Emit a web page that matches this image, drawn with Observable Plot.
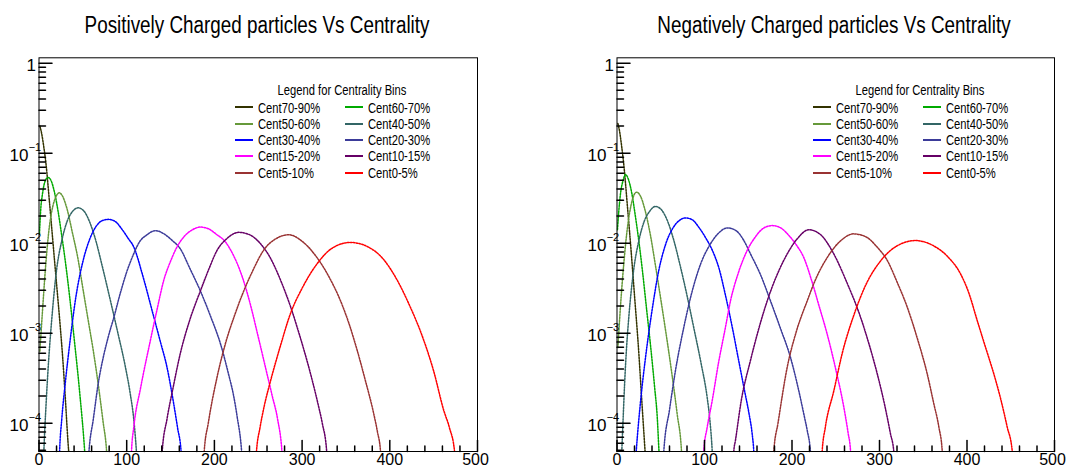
<!DOCTYPE html>
<html><head><meta charset="utf-8">
<script src="https://cdn.jsdelivr.net/npm/d3@7"></script>
<script src="https://cdn.jsdelivr.net/npm/@observablehq/plot@0.6"></script>
<style>
body{margin:0;background:#fff;font-family:"Liberation Sans",Arial,Helvetica,sans-serif;color:#000;}
#root{position:relative;width:1066px;height:469px;overflow:hidden;background:#fff;}
.panel{position:absolute;top:0;width:533px;height:469px;}
.panel svg{position:absolute;left:0;top:50px;overflow:visible;}
.title{position:absolute;top:13.5px;font-size:23px;line-height:23px;white-space:nowrap;transform:translateX(-50%) scaleX(0.82);}
.lg{position:absolute;font-size:14px;line-height:14px;white-space:nowrap;}
.lgtitle{transform:translateX(-50%) scaleX(0.8);}
.lgtext{transform:scaleX(0.8);transform-origin:left center;}
.sw{position:absolute;height:2.2px;width:18px;}
</style>
</head><body><div id="root"></div>
<script>
// ---- categories and colours ----
const centralityBins = ["Cent70-90%","Cent60-70%","Cent50-60%","Cent40-50%","Cent30-40%","Cent20-30%","Cent15-20%","Cent10-15%","Cent5-10%","Cent0-5%"];
const binColors = ["#333300","#00aa00","#66993a","#336666","#0000ff","#3b3b99","#ff00ff","#660066","#993333","#ff0000"];
const panelTitles = ["Positively Charged particles Vs Centrality","Negatively Charged particles Vs Centrality"];
const legendTitle = "Legend for Centrality Bins";

// ---- tick labels ----
const xTickValues = [0,100,200,300,400,500];
const xTickLabels = ["0","100","200","300","400","500"];
const yTickValues = [1e-4,1e-3,1e-2,1e-1,1];
const yTickBase = ["10","10","10","10","1"];
const yTickExp = ["\u22124","\u22123","\u22122","\u22121",""];

// ---- positive particles: [multiplicity, probability] ----
const posCent70_90 = [[1,0.200],[3,0.166],[5,0.126],[8,0.0759],[12,0.0282],[16,0.0100],[20,3.55e-3],[24,1.26e-3],[27,5.37e-4],[30,1.91e-4],[33,6.31e-5],[35,3.55e-5]];
const posCent60_70 = [[0.5,0.0126],[2,0.0240],[4,0.0355],[7,0.0490],[10.5,0.0537],[14,0.0490],[18,0.0355],[22,0.0219],[26,0.0120],[30,6.31e-3],[35,2.51e-3],[40,8.91e-4],[46.5,2.14e-4],[52,5.01e-5],[53,3.55e-5]];
const posCent50_60 = [[1,6.31e-4],[4,1.78e-3],[8,6.31e-3],[12,0.0158],[16,0.0263],[20,0.0339],[23,0.0363],[27,0.0331],[32,0.0240],[38,0.0132],[44,7.08e-3],[50,3.16e-3],[56,1.41e-3],[62,6.31e-4],[68,2.51e-4],[73,1.05e-4],[77,5.01e-5],[78,3.55e-5]];
const posCent40_50 = [[5,3.55e-5],[6,6.31e-5],[8,1.58e-4],[11,5.01e-4],[14.5,1.41e-3],[20,5.01e-3],[26,0.0107],[32,0.0174],[38,0.0224],[44.7,0.0247],[51,0.0229],[58,0.0170],[65,0.0105],[72,5.62e-3],[81.5,2.29e-3],[90,1.0e-3],[98,4.47e-4],[104,2.14e-4],[108,1.12e-4],[111,5.01e-5],[112,3.55e-5]];
const posCent30_40 = [[23,3.55e-5],[23.5,4.9e-5],[26,1.12e-4],[30,2.82e-4],[35,7.59e-4],[42,2.51e-3],[50.4,6.46e-3],[58,0.0112],[66,0.0158],[72,0.0178],[79.2,0.0184],[87,0.0174],[95,0.0141],[102,0.0112],[108,9.12e-3],[118,4.47e-3],[129,1.78e-3],[138,8.32e-4],[146,4.17e-4],[153,1.78e-4],[158,8.91e-5],[162,4.9e-5],[163,3.55e-5]];
const posCent20_30 = [[56,3.55e-5],[57,4.9e-5],[62,1.12e-4],[67.5,2.75e-4],[73,5.25e-4],[79,9.12e-4],[86,1.58e-3],[92,2.63e-3],[100,4.79e-3],[107,7.24e-3],[115,0.0105],[122.6,0.0123],[132.8,0.0138],[143,0.0126],[152,0.0107],[161,8.71e-3],[172,5.25e-3],[184,2.95e-3],[196,1.51e-3],[207,7.59e-4],[216,3.55e-4],[222,2.0e-4],[226,1.17e-4],[231,4.9e-5],[232,3.55e-5]];
const posCent15_20 = [[105,3.55e-5],[105.5,4.9e-5],[108,8.91e-5],[116,2.51e-4],[127,8.32e-4],[135,1.91e-3],[142.3,3.89e-3],[150,6.31e-3],[158,9.33e-3],[166,0.0120],[175,0.0141],[184,0.0151],[193,0.0145],[202,0.0126],[212,0.0105],[222,7.24e-3],[232,4.17e-3],[241,2.09e-3],[249,1.0e-3],[258,4.27e-4],[266,2.0e-4],[272,1.12e-4],[277,4.9e-5],[278,3.55e-5]];
const posCent10_15 = [[140,3.55e-5],[140.5,4.9e-5],[146,1.12e-4],[153,2.51e-4],[161,5.89e-4],[172,1.41e-3],[184,2.95e-3],[194,5.25e-3],[203,8.32e-3],[214,0.0112],[227.8,0.0132],[241,0.0123],[252,0.0100],[263,7.08e-3],[275,3.98e-3],[287,1.95e-3],[298,8.91e-4],[309.6,3.55e-4],[318,1.66e-4],[323,1.0e-4],[328,4.9e-5],[329,3.55e-5]];
const posCent5_10 = [[188,3.55e-5],[188.4,4.9e-5],[193,1.0e-4],[203,3.24e-4],[213,7.94e-4],[223,1.58e-3],[233.5,2.95e-3],[244,5.01e-3],[256,8.32e-3],[270,0.0112],[284.9,0.0124],[300,0.0105],[317,6.92e-3],[331,4.17e-3],[343.8,2.29e-3],[353,1.32e-3],[362.8,6.46e-4],[372,3.02e-4],[381.8,1.26e-4],[386,7.94e-5],[389.4,4.9e-5],[390,3.55e-5]];
const posCent0_5 = [[247,3.55e-5],[248,4.9e-5],[252,8.91e-5],[257,1.58e-4],[264,2.95e-4],[275,7.08e-4],[286.8,1.66e-3],[300,3.16e-3],[317,5.89e-3],[335,8.91e-3],[355.2,0.0102],[375,9.12e-3],[392,6.76e-3],[408.4,3.89e-3],[422,2.09e-3],[438.8,8.32e-4],[450,3.80e-4],[461.6,1.38e-4],[468,8.91e-5],[473.8,4.9e-5],[475,3.55e-5]];

// ---- negative particles ----
const negCent70_90 = [[1,0.214],[3,0.174],[5,0.126],[8,0.0708],[12,0.0251],[16,8.51e-3],[20,2.63e-3],[25,5.89e-4],[28,2.0e-4],[31,7.08e-5],[33,3.55e-5]];
const negCent60_70 = [[0.5,0.0141],[2,0.0224],[4,0.0355],[7,0.0501],[9.7,0.0579],[13,0.0513],[17,0.0355],[21,0.0200],[25,0.0105],[29,5.01e-3],[34,1.78e-3],[39,6.31e-4],[43,2.51e-4],[46,1.17e-4],[48,4.9e-5],[49,3.55e-5]];
const negCent50_60 = [[1,6.92e-4],[4,2.0e-3],[8,6.31e-3],[12,0.0151],[16,0.0263],[22.3,0.0369],[27,0.0331],[32,0.0234],[38,0.0126],[44,5.62e-3],[50,2.40e-3],[56,1.0e-3],[62,3.98e-4],[68.8,1.26e-4],[73.7,4.9e-5],[74.5,3.55e-5]];
const negCent40_50 = [[5,3.55e-5],[5.5,4.9e-5],[7,1.12e-4],[9,3.16e-4],[11,7.08e-4],[13.5,1.51e-3],[19,5.01e-3],[25,0.0107],[31,0.0174],[37,0.0224],[44,0.0256],[51,0.0234],[58,0.0174],[65,0.0107],[72,5.75e-3],[80,2.63e-3],[88,1.12e-3],[96,4.68e-4],[103,1.95e-4],[106,1.12e-4],[108.8,4.9e-5],[109.5,3.55e-5]];
const negCent30_40 = [[21,3.55e-5],[22,4.9e-5],[27,1.78e-4],[32.6,5.37e-4],[40,1.78e-3],[47.8,5.01e-3],[56,0.0100],[64,0.0148],[71,0.0178],[78.3,0.0191],[86,0.0182],[94,0.0148],[102,0.0112],[109,8.32e-3],[116.3,5.37e-3],[124,2.63e-3],[131.7,1.17e-3],[139,5.01e-4],[146,2.24e-4],[151,1.26e-4],[154.5,7.59e-5],[156.3,4.9e-5],[157,3.55e-5]];
const negCent20_30 = [[53,3.55e-5],[53.5,4.9e-5],[60,1.41e-4],[66.9,3.89e-4],[76,1.12e-3],[86,2.95e-3],[96,6.03e-3],[106,9.55e-3],[116,0.0129],[126,0.0148],[136,0.0138],[145,0.0107],[152.6,7.59e-3],[164,4.47e-3],[175.4,2.29e-3],[187,1.12e-3],[198.3,5.37e-4],[208,2.24e-4],[214,1.20e-4],[217.4,8.32e-5],[221,4.9e-5],[222,3.55e-5]];
const negCent15_20 = [[99,3.55e-5],[99.2,5.01e-5],[103,8.91e-5],[108.8,1.78e-4],[116,4.68e-4],[124,1.17e-3],[129.7,2.29e-3],[138,4.47e-3],[148.8,8.32e-3],[158,0.0117],[168,0.0148],[177.4,0.0157],[187,0.0148],[197,0.0120],[205,9.55e-3],[213.5,6.92e-3],[222,3.98e-3],[231,2.0e-3],[240.2,9.77e-4],[250,3.98e-4],[259.2,1.51e-4],[264,7.94e-5],[266.9,4.9e-5],[267.5,3.55e-5]];
const negCent10_15 = [[133,3.55e-5],[133.5,4.9e-5],[135.4,6.46e-5],[142,1.78e-4],[152.6,5.01e-4],[162,1.12e-3],[171.7,2.29e-3],[183,4.47e-3],[194.5,7.59e-3],[206,0.0112],[219.2,0.0141],[232,0.0126],[247.8,7.59e-3],[262,3.80e-3],[278.3,1.51e-3],[288,7.59e-4],[297.4,3.55e-4],[306,1.58e-4],[312.6,7.59e-5],[316.3,4.9e-5],[317,3.55e-5]];
const negCent5_10 = [[178.5,3.55e-5],[179.2,4.9e-5],[184,1.0e-4],[194.5,4.17e-4],[205,1.05e-3],[217.4,2.29e-3],[228,4.17e-3],[240.2,6.92e-3],[255,0.0105],[270.6,0.0127],[285,0.0117],[297,9.12e-3],[308.8,6.46e-3],[320,3.72e-3],[331.7,1.95e-3],[343,8.91e-4],[354.5,3.55e-4],[362,1.66e-4],[367.8,9.12e-5],[371.7,4.9e-5],[372.5,3.55e-5]];
const negCent0_5 = [[234,3.55e-5],[234.5,4.9e-5],[238,8.91e-5],[247.8,2.29e-4],[258,6.31e-4],[270.6,1.58e-3],[285,3.55e-3],[301,6.31e-3],[320,9.33e-3],[341.1,0.0107],[360,9.55e-3],[378,7.08e-3],[392.6,4.57e-3],[402,2.82e-3],[411.7,1.38e-3],[421,7.08e-4],[430.6,3.55e-4],[439,1.78e-4],[445.9,9.12e-5],[451.7,4.9e-5],[452.5,3.55e-5]];

const posSeries = [posCent70_90,posCent60_70,posCent50_60,posCent40_50,posCent30_40,posCent20_30,posCent15_20,posCent10_15,posCent5_10,posCent0_5];
const negSeries = [negCent70_90,negCent60_70,negCent50_60,negCent40_50,negCent30_40,negCent20_30,negCent15_20,negCent10_15,negCent5_10,negCent0_5];

// ---- drawing ----
const tickUp = {draw(c, l) { c.moveTo(0, 0); c.lineTo(0, -l); }};
const xMinorTicks = d3.range(0, 501, 20).filter(v => v % 100 !== 0);
const yMinorTicks = [];
for (const m of [1e-5,1e-4,1e-3,1e-2,1e-1]) for (let k = 2; k <= 9; k++) { const v = m * k; if (v > 4.85e-5 && v < 1) yMinorTicks.push(v); }
const yLabelRows = yTickValues.map((v, i) => ({v, base: yTickBase[i], exp: yTickExp[i]}));
const xLabelRows = xTickValues.map((v, i) => ({v, label: xTickLabels[i]}));

function makePanel(series, title, panelLeft, frameLeft, frameRight) {
  const rows = [];
  series.forEach((s, i) => s.forEach(([x, y]) => rows.push({bin: centralityBins[i], x, y})));
  const div = document.createElement("div");
  div.className = "panel";
  div.style.left = panelLeft + "px";
  const t = document.createElement("div");
  t.className = "title";
  t.textContent = title;
  t.style.left = ((frameLeft + frameRight) / 2 - 1) + "px";
  div.appendChild(t);
  const chart = Plot.plot({
    width: 533, height: 419,
    marginTop: 7.3, marginBottom: 18, marginLeft: frameLeft, marginRight: 533 - frameRight,
    x: {domain: [0, 500], axis: null},
    y: {type: "log", domain: [4.85e-5, 1.148], axis: null},
    color: {domain: centralityBins, range: binColors},
    style: {fontFamily: "'Liberation Sans', Arial, sans-serif", fontSize: "16px", color: "black", background: "transparent", overflow: "visible"},
    marks: [
      Plot.line(rows, {x: "x", y: "y", z: "bin", stroke: "bin", curve: "monotone-x", strokeWidth: 1.5, strokeDasharray: "1.6,1.3", clip: true}),
      Plot.frame({stroke: "black", strokeWidth: 1}),
      Plot.vector(xTickValues, {x: d => d, frameAnchor: "bottom", length: 11, anchor: "start", shape: tickUp, stroke: "black"}),
      Plot.vector(xMinorTicks, {x: d => d, frameAnchor: "bottom", length: 5.5, anchor: "start", shape: tickUp, stroke: "black"}),
      Plot.vector(yTickValues, {y: d => d, frameAnchor: "left", length: 13, rotate: 90, anchor: "start", shape: tickUp, stroke: "black"}),
      Plot.vector(yMinorTicks, {y: d => d, frameAnchor: "left", length: 6.5, rotate: 90, anchor: "start", shape: tickUp, stroke: "black"}),
      Plot.text(xLabelRows.slice(0, -1), {x: "v", text: "label", frameAnchor: "bottom", lineAnchor: "top", dy: 2.5, fontSize: 16}),
      Plot.text(xLabelRows.slice(-1), {x: "v", text: "label", frameAnchor: "bottom", lineAnchor: "top", dy: 2.5, dx: -2, fontSize: 16}),
      Plot.text(yLabelRows.filter(d => d.exp), {y: "v", text: "base", frameAnchor: "left", textAnchor: "end", dx: -10.5, dy: 2, fontSize: 17}),
      Plot.text(yLabelRows.filter(d => d.exp), {y: "v", text: "exp", frameAnchor: "left", textAnchor: "start", dx: -10.3, dy: -5.5, fontSize: 11}),
      Plot.text(yLabelRows.filter(d => !d.exp), {y: "v", text: "base", frameAnchor: "left", textAnchor: "end", dx: -3, dy: 2, fontSize: 17})
    ]
  });
  div.appendChild(chart);
  // legend
  const lx = frameLeft;
  const lt = document.createElement("div");
  lt.className = "lg lgtitle";
  lt.textContent = legendTitle;
  lt.style.left = (lx + 303.2) + "px";
  lt.style.top = "83.2px";
  div.appendChild(lt);
  centralityBins.forEach((b, i) => {
    const col = i % 2, row = Math.floor(i / 2);
    const cy = 107.4 + row * 16.3;
    const sx = lx + 196.7 + col * 110;
    const sw = document.createElement("div");
    sw.className = "sw";
    sw.style.left = sx + "px";
    sw.style.top = (cy - 1.1) + "px";
    sw.style.background = binColors[i];
    div.appendChild(sw);
    const tx = document.createElement("div");
    tx.className = "lg lgtext";
    tx.textContent = b;
    tx.style.left = (sx + 23) + "px";
    tx.style.top = (cy - 6.9) + "px";
    div.appendChild(tx);
  });
  return div;
}
const root = document.getElementById("root");
root.appendChild(makePanel(posSeries, panelTitles[0], 0, 38.5, 477));
root.appendChild(makePanel(negSeries, panelTitles[1], 533, 83.5, 521));
</script></body></html>
